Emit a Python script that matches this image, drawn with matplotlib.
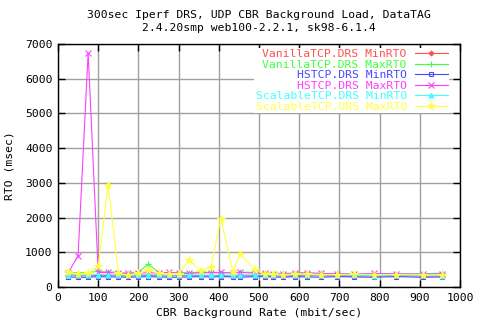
import matplotlib
matplotlib.use("Agg")
import matplotlib.pyplot as plt

# ---- data ----
x_rate = [25, 50, 75, 100, 125, 150, 175, 200, 225, 250, 275, 300, 325, 355, 380,
          405, 435, 453, 490, 515, 535, 560, 590, 620, 655, 693, 737, 787, 841, 907, 956]

vanilla_min = [350, 330, 320, 340, 330, 330, 320, 330, 340, 330, 320, 330, 330, 330, 320,
               330, 320, 330, 330, 330, 320, 320, 330, 330, 330, 320, 320, 320, 330, 320, 320]
vanilla_max = [420, 410, 420, 450, 430, 430, 400, 440, 650, 430, 410, 420, 410, 430, 420,
               410, 420, 430, 420, 400, 400, 390, 400, 400, 390, 390, 380, 370, 370, 380, 400]
hstcp_min = [290, 280, 280, 300, 290, 290, 280, 290, 300, 290, 280, 280, 290, 300, 290,
             300, 290, 280, 300, 300, 290, 280, 300, 290, 280, 300, 290, 280, 300, 280, 290]
hstcp_max = [400, 900, 6750, 420, 420, 400, 390, 400, 410, 400, 420, 400, 390, 410, 410,
             420, 400, 420, 400, 390, 380, 380, 400, 410, 390, 380, 380, 390, 380, 370, 380]
scalable_min = [360, 350, 350, 360, 350, 350, 340, 350, 360, 350, 340, 350, 350, 350, 340,
                350, 340, 350, 350, 350, 340, 340, 350, 350, 340, 350, 340, 330, 340, 340, 330]
scalable_max = [420, 380, 390, 600, 2950, 390, 350, 400, 480, 400, 380, 370, 780, 470, 570,
                1960, 440, 950, 490, 370, 370, 360, 370, 380, 360, 360, 370, 360, 360, 350, 350]

labels = ["VanillaTCP.DRS MinRTO", "VanillaTCP.DRS MaxRTO",
          "HSTCP.DRS MinRTO", "HSTCP.DRS MaxRTO",
          "ScalableTCP.DRS MinRTO", "ScalableTCP.DRS MaxRTO"]
series = [vanilla_min, vanilla_max, hstcp_min, hstcp_max, scalable_min, scalable_max]
colors = ["#ff5050", "#40ff40", "#4848ff", "#ff40ff", "#40ffff", "#ffff40"]
markers = ["D", "+", "s", "x", "^", "*"]
msizes = [2.5, 5, 3.5, 4.5, 3.5, 5.5]
mfill = [True, True, False, True, True, True]

x_ticks = list(range(0, 1001, 100))
y_ticks = list(range(0, 7001, 1000))

title1 = "300sec Iperf DRS, UDP CBR Background Load, DataTAG"
title2 = "2.4.20smp web100-2.2.1, sk98-6.1.4"
xlabel = "CBR Background Rate (mbit/sec)"
ylabel = "RTO (msec)"

# ---- figure ----
FONT = "DejaVu Sans Mono"
FS = 8.2
plt.rcParams["font.family"] = FONT

fig = plt.figure(figsize=(4.8, 3.2), dpi=100)
W, H = 480, 320
ax = fig.add_axes([58 / W, 1 - 287 / H, (460 - 58) / W, (287 - 44) / H])

for ys, lab, c, m, ms, fill in zip(series, labels, colors, markers, msizes, mfill):
    ax.plot(x_rate, ys, color=c, lw=0.8, marker=m, markersize=ms,
            markerfacecolor=c if fill else "none", markeredgecolor=c,
            markeredgewidth=0.8, label=lab, zorder=3)

ax.set_xlim(0, 1000)
ax.set_ylim(0, 7000)
ax.set_xticks(x_ticks)
ax.set_yticks(y_ticks)
ax.grid(True, color="#a0a0a0", lw=1.0, zorder=0)
ax.set_axisbelow(True)
ax.tick_params(direction="in", length=5, width=1, top=True, right=True,
               labelsize=FS, pad=4)
for s in ax.spines.values():
    s.set_linewidth(1.0)
    s.set_color("black")

ax.set_xlabel(xlabel, fontsize=FS, labelpad=4)
ax.set_ylabel(ylabel, fontsize=FS)
ax.yaxis.set_label_coords((15 - 58) / 402, 0.5)

fig.text(259 / W, 1 - 15 / H, title1, ha="center", va="center", fontsize=FS)
fig.text(259 / W, 1 - 28 / H, title2, ha="center", va="center", fontsize=FS)

leg = ax.legend(loc="upper right", bbox_to_anchor=((449 - 58) / 402, (287 - 48) / 243),
                markerfirst=False, frameon=True, fancybox=False, framealpha=1,
                facecolor="white", edgecolor="none", fontsize=FS,
                labelcolor="linecolor", handlelength=2.9, handletextpad=0.7,
                labelspacing=0.05, borderpad=0.1, borderaxespad=0)
leg.set_zorder(5)

fig.savefig("out.png", dpi=100)
